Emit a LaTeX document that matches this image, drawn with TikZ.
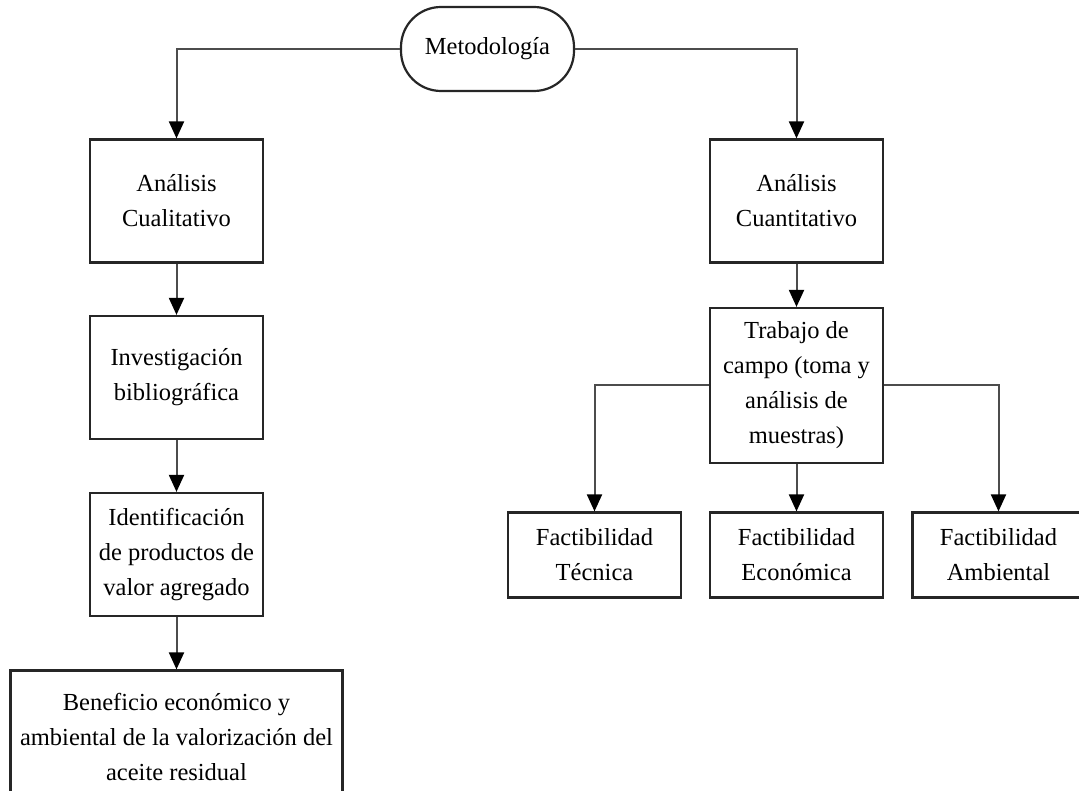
\documentclass[tikz,border=0pt]{standalone}
\usepackage{fontspec}
\setmainfont{Liberation Serif}
\usetikzlibrary{positioning, arrows.meta}

\begin{document}
\begin{tikzpicture}
    [
        node distance=176pt and 202pt, on grid, auto,
        font=\fontsize{24.5pt}{35pt}\selectfont,
        box_node/.style={rectangle, draw=black!85, fill=white, line width=2.2pt, align=center, inner sep=2pt, minimum width=173pt, minimum height=123pt},
        small_node/.style={box_node, minimum width=173pt, minimum height=85pt},
        round_node/.style={rectangle, rounded corners=40pt, draw=black!85, fill=white, line width=2.2pt, minimum width=173pt, minimum height=84pt},
        link/.style={-{Triangle[length=17pt, width=15pt, color=black]}, line width=2pt, color=black!70},
    ]
        \useasboundingbox (0pt,0pt) rectangle (1079pt,-791pt) ;
        \node[round_node] (met) at (487.5pt,-49pt) {Metodología} ;
        % left column
        \node[box_node] (cual) [below left=152pt and 311pt of met] {Análisis\\Cualitativo} ;
        \node[box_node] (inv) [below=176.5pt of cual] {Investigación\\bibliográfica} ;
        \node[box_node] (ident) [below=177pt of inv] {Identificación\\de productos de\\valor agregado} ;
        \node[box_node, minimum width=332pt, minimum height=132pt] (bene) [below=182pt of ident] {Beneficio económico y\\ambiental de la valorización del\\aceite residual} ;
        % right column
        \node[box_node] (cuan) [below right=152pt and 309pt of met] {Análisis\\Cuantitativo} ;
        \node[box_node, minimum height=155pt] (trab) [below=184.5pt of cuan] {Trabajo de\\campo (toma y\\análisis de\\muestras)} ;
        \node[small_node] (eco) [below=169.5pt of trab] {Factibilidad\\Económica} ;
        \node[small_node] (tec) [left=of eco] {Factibilidad\\Técnica} ;
        \node[small_node, minimum width=172pt] (amb) [right=of eco] {Factibilidad\\Ambiental} ;
        \draw[link] (met) -| (cual) ;
        \draw[link] (met) -| (cuan) ;
        \draw[link] (cual) -- (inv) ;
        \draw[link] (inv) -- (ident) ;
        \draw[link] (ident) -- (bene) ;
        \draw[link] (cuan) -- (trab) ;
        \draw[link] (trab) -- (eco) ;
        \draw[link] (trab) -| (tec) ;
        \draw[link] (trab) -| (amb) ;
    \end{tikzpicture}
\end{document}
